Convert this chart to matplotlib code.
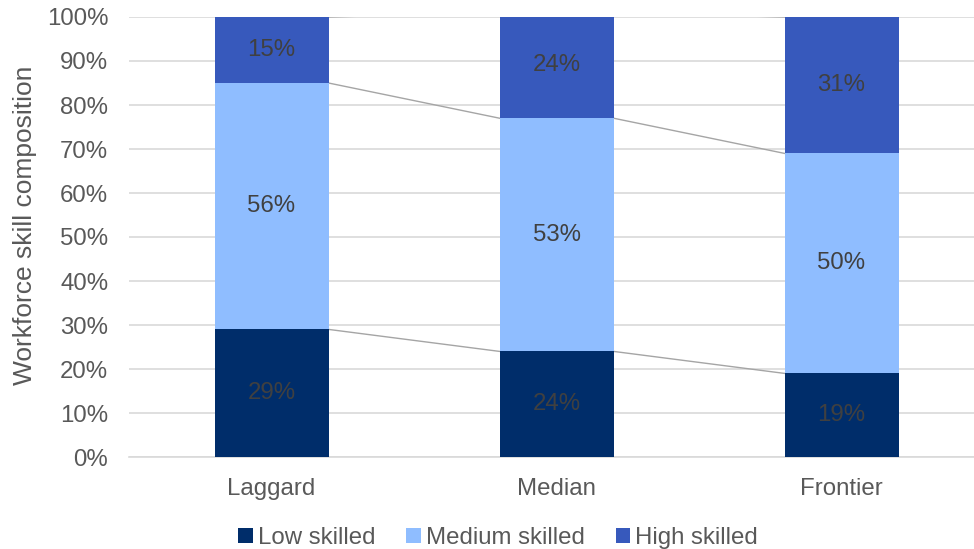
import matplotlib.pyplot as plt
import numpy as np

plt.rcParams['font.family'] = ['Liberation Sans', 'DejaVu Sans']

categories = ['Laggard', 'Median', 'Frontier']
series_names = ['Low skilled', 'Medium skilled', 'High skilled']
low = [29, 24, 19]
medium = [56, 53, 50]
high = [15, 24, 31]
colors = ['#002D6A', '#8FBDFF', '#3759BC']

fs = 17.3

fig = plt.figure(figsize=(9.74, 5.49), dpi=100)
ax = fig.add_axes([129 / 974, 1 - 457 / 549, 855 / 974, 440 / 549])

x = np.arange(len(categories))
width = 0.4
bottom = np.zeros(len(categories))
for name, vals, col in zip(series_names, [low, medium, high], colors):
    vals = np.array(vals, dtype=float)
    ax.bar(x, vals, width, bottom=bottom, color=col, label=name, zorder=3)
    for xi, b, v in zip(x, bottom, vals):
        ax.text(xi, b + v / 2, f'{int(v)}%', ha='center', va='center',
                fontsize=fs, color='#404040', zorder=4)
    bottom = bottom + vals
    # series lines between bars
    for i in range(len(categories) - 1):
        ax.plot([x[i] + width / 2, x[i + 1] - width / 2], [bottom[i], bottom[i + 1]],
                color='#A5A5A5', lw=1, zorder=2)

ax.set_xlim(-0.5, 2.5)
ax.set_ylim(0, 100)
ax.set_yticks(range(0, 101, 10))
ax.set_yticklabels([f'{v}%' for v in range(0, 101, 10)])
ax.set_xticks(x)
ax.set_xticklabels(categories)
ax.tick_params(axis='both', length=0, labelsize=fs, colors='#595959')
ax.tick_params(axis='x', pad=15)
ax.tick_params(axis='y', pad=15)
ax.grid(axis='y', color='#D9D9D9', lw=1.2, zorder=0)
for s in ['top', 'right', 'left']:
    ax.spines[s].set_visible(False)
ax.spines['bottom'].set_color('#D9D9D9')
ax.spines['bottom'].set_linewidth(1.2)
ax.set_ylabel('Workforce skill composition', fontsize=19, color='#595959')
ax.yaxis.set_label_coords(-(129 - 37) / 855, 0.5 + 12 / 440)

fig.legend(loc='center', bbox_to_anchor=(498 / 974, 1 - 538 / 549), ncol=3, frameon=False,
           fontsize=fs, labelcolor='#595959', handlelength=0.6, handleheight=0.6,
           handletextpad=0.2, columnspacing=1.3)

fig.savefig('out.png', dpi=100)
